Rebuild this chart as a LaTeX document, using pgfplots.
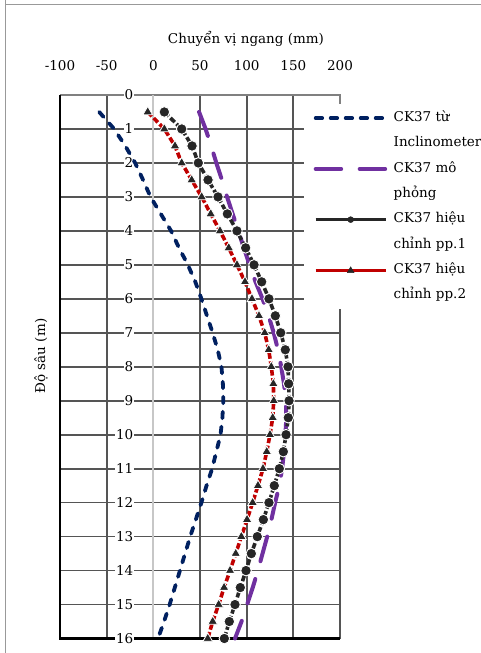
\documentclass[border=0pt]{standalone}
\usepackage{fontspec}
\setmainfont{DejaVu Serif}
\usepackage{pgfplots}
\usepackage{pgfplotstable}
\pgfplotsset{compat=1.18}
\definecolor{navy}{HTML}{002060}
\definecolor{purp}{HTML}{7030A0}
\definecolor{dred}{HTML}{C00000}
\definecolor{gridc}{HTML}{555555}
\definecolor{mk}{HTML}{262626}

\pgfplotstableread{
x y
-58 0.5
-42 1
-30 1.5
-19.5 2
-11 2.5
-3 3
8 3.5
19 4
27.5 4.5
37 5
45 5.5
51.5 6
57.5 6.5
63.5 7
69 7.5
73 8
74.5 8.5
75 9
74 9.5
72 10
67.5 10.5
63 11
57 11.5
51.5 12
45.5 12.5
39.5 13
34 13.5
28.5 14
23 14.5
17.5 15
11.5 15.5
5 16
}\incl

\pgfplotstableread{
x y
49 0.5
56 1
62 1.5
67.5 2
73.5 2.5
79 3
85 3.5
91 4
97 4.5
103 5
109.5 5.5
117 6
123.5 6.5
129 7
133.5 7.5
137 8
140 8.5
142 9
142.5 9.5
141.5 10
140 10.5
138 11
135 11.5
130.5 12
126.5 12.5
122 13
117 13.5
112 14
106.5 14.5
100.5 15
94.5 15.5
87.5 16
}\mophong

\pgfplotstableread{
x y
11.8 0.5
30.4 1
41.5 1.5
48.2 2
58.6 2.5
69.3 3
79.3 3.5
89.6 4
98.9 4.5
107.9 5
116.1 5.5
123.9 6
130.7 6.5
136.5 7
141.4 7.5
144.3 8
145 8.5
145.4 9
144.6 9.5
142.2 10
139.3 10.5
135 11
129.6 11.5
123.9 12
117.9 12.5
111.4 13
105 13.5
99.3 14
93.2 14.5
87.5 15
81.4 15.5
76.1 16
}\ppone

\pgfplotstableread{
x y
-6 0.5
11.8 1
23.2 1.5
30.4 2
41.1 2.5
51.8 3
61.5 3.5
71.4 4
80.8 4.5
89.6 5
98.2 5.5
105.7 6
113.2 6.5
119.3 7
123.6 7.5
126.4 8
128.6 8.5
129 9
127.9 9.5
125 10
121.5 10.5
117.5 11
112.1 11.5
106.4 12
100.4 12.5
94.3 13
88.3 13.5
82.2 14
75.8 14.5
70 15
63.6 15.5
58.3 16
}\pptwo

\begin{document}
\fontsize{13.5bp}{16bp}\selectfont
\begin{tikzpicture}
\useasboundingbox (0bp,0bp) rectangle (481bp,-653bp);
\fill[white] (0bp,0bp) rectangle (481bp,-653bp);
\draw[black!40, line width=1bp] (5bp,0bp) -- (5bp,-653bp);
\draw[black!40, line width=1bp] (5bp,-4.5bp) -- (481bp,-4.5bp);
\begin{axis}[
  at={(60bp,-638.5bp)}, anchor=south west,
  scale only axis, width=280bp, height=543.5bp,
  xmin=-100, xmax=200, ymin=0, ymax=16, y dir=reverse,
  xtick={-100,-50,...,200}, ytick={0,1,...,16}, yticklabels={},
  axis line style={draw=none}, major tick style={draw=none},
  grid=major, major grid style={draw=gridc, line width=1.7bp},
  xticklabel pos=upper,
  /pgf/number format/assume math mode=true,
  tick label style={font=\fontsize{13.5bp}{16bp}\selectfont},
  xticklabel style={anchor=base, yshift=24.5bp},
  clip=false,
  legend style={at={(0.8714,0.983)}, anchor=north west, draw=none, fill=white,
    inner xsep=9.5bp, inner ysep=7bp, row sep=11.86bp,
    font=\fontsize{13.5bp}{16bp}\selectfont,
    nodes={text height=9.5bp, text depth=3bp, inner sep=0.5bp},
    cells={anchor=west},
    /tikz/every odd column/.append style={column sep=5.5bp}},
  legend image code/.code={\draw[#1] (0bp,0bp) -- (70bp,0bp);},
]
\draw[black!50, line width=1.6bp] (axis cs:-100,0) -- (axis cs:200,0) -- ++(0bp,-9bp);
\draw[black!22, line width=2.2bp] (axis cs:0,0) -- (axis cs:0,16);
\draw[black, line width=2.6bp] (axis cs:-100,0) -- (axis cs:-100,16) -- (axis cs:200,16);
\pgfplotsinvokeforeach{0,...,16}{
  \node[anchor=east, fill=white, inner sep=1bp, xshift=-18.8bp] at (axis cs:0,#1) {#1};
}

\addplot[navy, line width=3.8bp, dash pattern=on 6.5bp off 8.5bp, line cap=round, forget plot] table[x=x,y=y] {\incl};
\addplot[purp, line width=4bp, dash pattern=on 25.5bp off 18.5bp, line cap=round, forget plot] table[x=x,y=y] {\mophong};
\addplot[dred, line width=3.6bp, dash pattern=on 6bp off 2.5bp, mark=triangle*, mark size=5.6bp,
  mark options={solid, fill=mk, draw=white, line width=0.8bp}, forget plot] table[x=x,y=y] {\pptwo};
\addplot[mk, line width=3.6bp, dash pattern=on 6bp off 2.5bp, mark=*, mark size=5.3bp,
  mark options={solid, fill=mk, draw=white, line width=0.9bp}, forget plot] table[x=x,y=y] {\ppone};

\addlegendimage{navy, line width=3.8bp, dash pattern=on 6.5bp off 8.5bp, line cap=round}
\addlegendentry{CK37 từ}
\addlegendimage{empty legend}
\addlegendentry{Inclinometer}
\addlegendimage{purp, line width=4bp, dash pattern=on 25.5bp off 18.5bp, line cap=round}
\addlegendentry{CK37 mô}
\addlegendimage{empty legend}
\addlegendentry{phỏng}
\addlegendimage{mk, legend image code/.code={\draw[mk, line width=3.2bp] (0bp,0bp) -- (70bp,0bp); \fill[mk] (35bp,0bp) circle (3bp);}}
\addlegendentry{CK37 hiệu}
\addlegendimage{empty legend}
\addlegendentry{chỉnh pp.1}
\addlegendimage{dred, legend image code/.code={\draw[dred, line width=3.2bp] (0bp,0bp) -- (70bp,0bp); \fill[mk] (35bp,3.6bp) -- (31.6bp,-2.3bp) -- (38.4bp,-2.3bp) -- cycle;}}
\addlegendentry{CK37 hiệu}
\addlegendimage{empty legend}
\addlegendentry{chỉnh pp.2}
\end{axis}
\node at (246bp,-39bp) {Chuyển vị ngang (mm)};
\node[rotate=90] at (41bp,-356bp) {Độ sâu (m)};
\end{tikzpicture}
\end{document}
